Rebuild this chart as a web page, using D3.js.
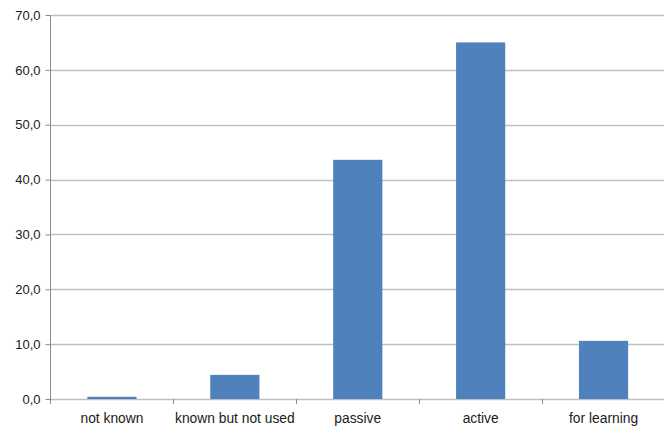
<!DOCTYPE html>
<html>
<head>
<meta charset="utf-8">
<script src="https://cdn.jsdelivr.net/npm/d3@7"></script>
<style>
  html, body { margin: 0; padding: 0; background: #fff; }
  svg { display: block; }
  text { font-family: "Liberation Sans", Arial, sans-serif; font-size: 13px; fill: #1a1a1a; }
  .cat { font-size: 13.8px; }
</style>
</head>
<body>
<svg id="chart" width="664" height="427"></svg>
<script>
// Usage categories and their percentages
const categories = ["not known", "known but not used", "passive", "active", "for learning"];
const values = [0.4, 4.4, 43.6, 65.0, 10.6];
const yTicks = [0, 10, 20, 30, 40, 50, 60, 70];

const svg = d3.select("#chart");
const margin = { left: 50.5, right: -1, top: 15, bottom: 28 };
const W = 664, H = 427;

const x = d3.scaleBand()
  .domain(categories)
  .range([margin.left, W - margin.right])
  .paddingInner(0.6)
  .paddingOuter(0.3);

const y = d3.scaleLinear()
  .domain([0, 70])
  .range([H - margin.bottom, margin.top]);

const fmt = v => d3.format(".1f")(v).replace(".", ",");

// horizontal gridlines
svg.append("g")
  .selectAll("line")
  .data(yTicks)
  .join("line")
  .attr("x1", margin.left)
  .attr("x2", W)
  .attr("y1", d => Math.round(y(d)) + 0.5)
  .attr("y2", d => Math.round(y(d)) + 0.5)
  .attr("stroke", "#c0c0c0")
  .attr("stroke-width", 1.3);

// y axis
const yAxis = d3.axisLeft(y)
  .tickValues(yTicks)
  .tickFormat(fmt)
  .tickSize(5)
  .tickPadding(5);
const gy = svg.append("g")
  .attr("transform", `translate(${margin.left},0)`)
  .call(yAxis);
gy.select(".domain").remove();
gy.selectAll(".tick line").attr("stroke", "#8c8c8c");
gy.selectAll(".tick text").attr("font-family", null).attr("font-size", null).attr("fill", "#1a1a1a");
gy.append("line")
  .attr("x1", 0).attr("x2", 0)
  .attr("y1", y(70)).attr("y2", y(0) + 5)
  .attr("stroke", "#8c8c8c");

// category separators below the baseline
const step = x.step();
const seps = d3.range(categories.length).map(i => x.range()[0] + i * step);
svg.append("g")
  .selectAll("line")
  .data(seps.slice(1))
  .join("line")
  .attr("x1", d => Math.round(d) + 0.5)
  .attr("x2", d => Math.round(d) + 0.5)
  .attr("y1", y(0))
  .attr("y2", y(0) + 5)
  .attr("stroke", "#8c8c8c");

// bars
svg.append("g")
  .selectAll("rect")
  .data(values)
  .join("rect")
  .attr("x", (d, i) => x(categories[i]))
  .attr("width", x.bandwidth())
  .attr("y", d => y(d))
  .attr("height", d => y(0) - y(d))
  .attr("fill", "#4f81bd");

// category labels
svg.append("g")
  .selectAll("text")
  .data(categories)
  .join("text")
  .attr("class", "cat")
  .attr("x", d => x(d) + x.bandwidth() / 2)
  .attr("y", y(0) + 24)
  .attr("text-anchor", "middle")
  .text(d => d);
</script>
</body>
</html>
